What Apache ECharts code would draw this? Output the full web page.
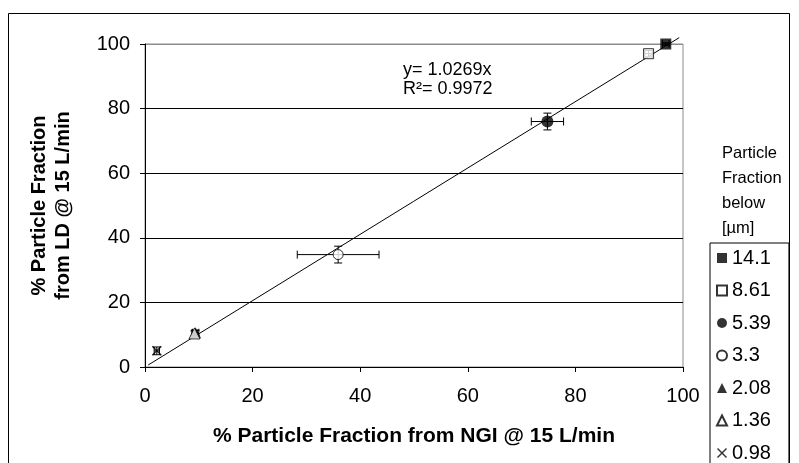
<!DOCTYPE html>
<html><head><meta charset="utf-8">
<script src="https://cdn.jsdelivr.net/npm/echarts@6/dist/echarts.min.js"></script>
<style>html,body{margin:0;padding:0;background:#fff}#c{width:799px;height:463px}</style>
</head><body><div id="c"></div>
<script>
const sizes = ['14.1','8.61','5.39','3.3','2.08','1.36','0.98'];
const xVals = [96.8, 93.6, 74.8, 35.9, 9.4, 9.2, 2.2];
const yVals = [100.0, 97.0, 76.0, 34.8, 10.6, 10.4, 5.0];
const xErr  = [0.6, 0.7, 3.0, 7.6, 0.6, 0.5, 0.5];
const yErr  = [0.4, 1.0, 2.6, 2.6, 0.8, 0.8, 1.2];
const trendLine = [[0.6, 0.62], [99.3, 101.97]];
const xTicks = [0, 20, 40, 60, 80, 100];
const yTicks = [0, 20, 40, 60, 80, 100];
const eqText = ['y= 1.0269x', 'R\u00b2= 0.9972'];
const legendTitle = ['Particle', 'Fraction', 'below', '[\u00b5m]'];

const XPATH = 'path://M0,1L1,0L5,4L9,0L10,1L6,5L10,9L9,10L5,6L1,10L0,9L4,5Z';
const symbols = ['rect','rect','circle','circle','triangle','triangle',XPATH];
const filled  = [true,false,true,false,true,false,true];
const symSize = [11,10,12,10,11,11,10];
const FONT = 'Liberation Sans, Arial, sans-serif';

const chart = echarts.init(document.getElementById('c'));
const series = [];
series.push({
  type:'line', data: trendLine, showSymbol:false, symbol:'none', clip:false,
  lineStyle:{color:'#000', width:1}, silent:true, z:1
});
const errData = sizes.map((s,i)=>[xVals[i], yVals[i], xErr[i], yErr[i]]);
series.push({
  type:'custom', silent:true, z:2, clip:false,
  data: errData,
  renderItem: function(params, api){
    const x = api.value(0), y = api.value(1), ex = api.value(2), ey = api.value(3);
    const c = api.coord([x,y]);
    const l = api.coord([x-ex,y]), r = api.coord([x+ex,y]);
    const t = api.coord([x,y+ey]), b = api.coord([x,y-ey]);
    const cap = 4;
    const st = {stroke:'#000', lineWidth:1};
    return {type:'group', children:[
      {type:'line', shape:{x1:l[0],y1:c[1],x2:r[0],y2:c[1]}, style:st},
      {type:'line', shape:{x1:l[0],y1:c[1]-cap,x2:l[0],y2:c[1]+cap}, style:st},
      {type:'line', shape:{x1:r[0],y1:c[1]-cap,x2:r[0],y2:c[1]+cap}, style:st},
      {type:'line', shape:{x1:c[0],y1:t[1],x2:c[0],y2:b[1]}, style:st},
      {type:'line', shape:{x1:c[0]-cap,y1:t[1],x2:c[0]+cap,y2:t[1]}, style:st},
      {type:'line', shape:{x1:c[0]-cap,y1:b[1],x2:c[0]+cap,y2:b[1]}, style:st}
    ]};
  }
});
sizes.forEach((s,i)=>{
  series.push({
    name:s, type:'scatter', data:[[xVals[i], yVals[i]]], symbol:symbols[i], symbolSize:symSize[i],
    itemStyle:{color: filled[i] ? '#000' : '#fff', borderColor:'#000', borderWidth: filled[i]?0:1},
    z:3, clip:false
  });
});

chart.setOption({
  animation:false,
  backgroundColor:'#fff',
  textStyle:{fontFamily:FONT},
  grid:{left:145, right:116, top:44, bottom:96, show:true, borderColor:'#8c8c8c', borderWidth:1, backgroundColor:'transparent'},
  xAxis:{type:'value', min:0, max:100, interval:20,
    axisLine:{show:true, onZero:false, lineStyle:{color:'#000', width:1}},
    axisTick:{show:true, inside:false, length:5, lineStyle:{color:'#000'}},
    axisLabel:{color:'#000', fontSize:20, margin:19, fontFamily:FONT},
    splitLine:{show:false},
    name:'% Particle Fraction from NGI @ 15 L/min', nameLocation:'middle', nameGap:59,
    nameTextStyle:{color:'#000', fontSize:21, fontWeight:'bold', fontFamily:FONT}
  },
  yAxis:{type:'value', min:0, max:100, interval:20,
    axisLine:{show:true, onZero:false, lineStyle:{color:'#000', width:1}},
    axisTick:{show:true, inside:false, length:5, lineStyle:{color:'#000'}},
    axisLabel:{color:'#000', fontSize:20, margin:15, fontFamily:FONT},
    splitLine:{show:true, lineStyle:{color:['#000','#000','#000','#000','#000','#8c8c8c'], width:1}},
    name:'% Particle Fraction\nfrom LD @ 15 L/min', nameLocation:'middle', nameGap:70,
    nameTextStyle:{color:'#000', fontSize:20, fontWeight:'bold', lineHeight:24, fontFamily:FONT}
  },
  legend:{
    orient:'vertical', left:710, top:243, height:320,
    data: sizes.map((s,i)=>({name:s, icon: symbols[i]})),
    itemWidth:10, itemHeight:10, itemGap:12.5,
    padding:[5,18,8,6],
    borderColor:'#000', borderWidth:1,
    textStyle:{color:'#000', fontSize:20, fontFamily:FONT},
    selectedMode:false
  },
  graphic:[
    {type:'rect', shape:{x:8.5, y:13.5, width:781, height:470}, style:{fill:'none', stroke:'#000', lineWidth:1}, silent:true, z:-1},
    {type:'text', left:403, top:60, style:{text:eqText.join('\n'), fontSize:18, lineHeight:19.5, fill:'#000', fontFamily:FONT}},
    {type:'text', left:722, top:141, style:{text:legendTitle.join('\n'), fontSize:16.5, lineHeight:25, fill:'#000', fontFamily:FONT}}
  ],
  series: series
});
</script></body></html>
